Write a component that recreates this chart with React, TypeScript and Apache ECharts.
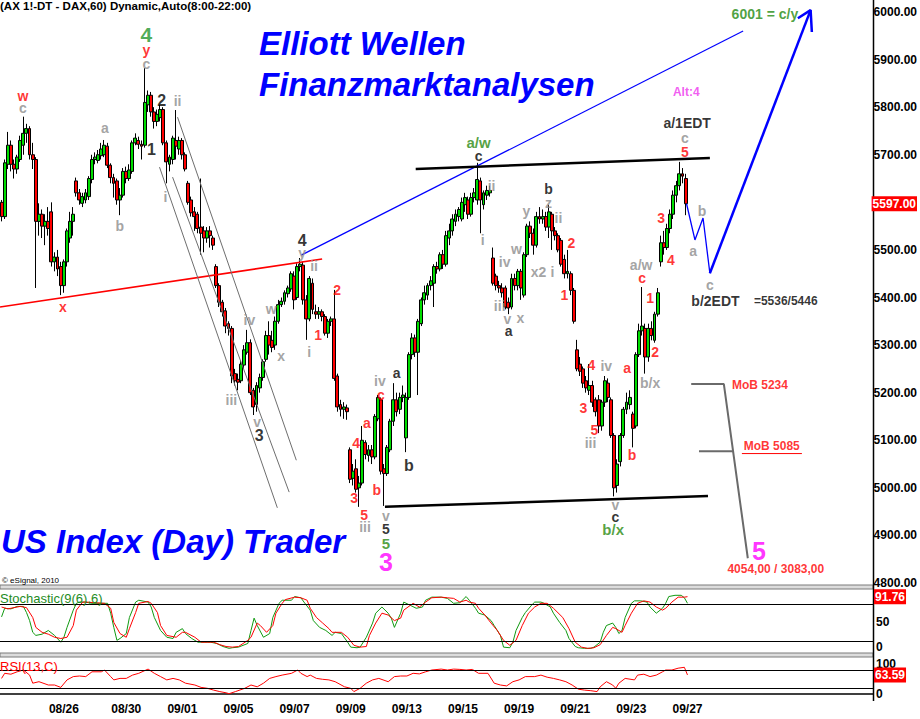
import React, { useEffect, useRef } from 'react';
import * as echarts from 'echarts';

// ---------- axis / categories ----------
const CATEGORY_COUNT = 280;
const dateTickIndex = [20, 40, 58, 76, 94, 112, 130, 148, 166, 184, 202, 220];
const dateTickLabels = ['08/26', '08/30', '09/01', '09/05', '09/07', '09/09', '09/13', '09/15', '09/19', '09/21', '09/23', '09/27'];
const priceMin = 4800;
const priceMax = 6000;
const priceStep = 100;
const lastPrice = 5597;
const lastStochD = 91.76;
const lastRsi = 63.59;

// ---------- hourly candles [open, close, low, high] ----------
const bars: number[][] = [
  [5600,5570,5560,5605],[5570,5683,5565,5690],[5680,5720,5670,5748],[5720,5680,5665,5730],[5680,5670,5650,5690],
  [5670,5695,5660,5700],[5690,5730,5685,5740],[5720,5745,5700,5780],[5745,5755,5725,5765],[5755,5700,5690,5760],
  [5700,5690,5670,5725],[5690,5560,5420,5695],[5560,5575,5530,5598],[5575,5550,5525,5585],[5550,5560,5510,5575],
  [5560,5545,5530,5590],[5580,5475,5465,5600],[5475,5485,5455,5495],[5485,5460,5445,5500],[5465,5425,5405,5475],
  [5425,5475,5410,5480],[5475,5540,5465,5545],[5525,5560,5515,5580],[5560,5575,5530,5590],[5645,5620,5612,5652],
  [5620,5605,5595,5628],[5598,5612,5590,5620],[5605,5620,5598,5628],[5612,5650,5605,5655],[5648,5690,5640,5700],
  [5690,5695,5680,5705],[5688,5700,5682,5710],[5698,5712,5690,5725],[5700,5720,5695,5731],[5718,5678,5672,5725],
  [5678,5652,5640,5682],[5652,5640,5610,5660],[5645,5605,5595,5650],[5605,5615,5573,5630],[5615,5665,5610,5672],
  [5665,5650,5640,5675],[5650,5668,5645,5680],[5665,5725,5660,5730],[5725,5735,5720,5745],[5730,5722,5712,5738],
  [5722,5718,5690,5730],[5720,5810,5715,5882],[5805,5825,5790,5835],[5825,5790,5780,5832],[5790,5770,5755,5800],
  [5770,5785,5760,5795],[5778,5795,5770,5805],[5795,5725,5720,5800],[5725,5685,5640,5730],[5680,5695,5665,5700],
  [5690,5735,5680,5740],[5730,5718,5690,5794],[5712,5730,5700,5738],[5730,5700,5690,5735],[5700,5670,5665,5705],
  [5640,5600,5595,5645],[5605,5578,5570,5612],[5580,5570,5540,5590],[5575,5545,5535,5580],[5548,5535,5490,5650],
  [5540,5525,5495,5550],[5525,5540,5515,5548],[5540,5530,5505,5550],[5525,5510,5500,5530],[5465,5425,5420,5470],
  [5425,5390,5380,5430],[5390,5370,5360,5395],[5372,5340,5325,5378],[5345,5335,5320,5350],[5335,5235,5220,5340],
  [5240,5225,5215,5250],[5228,5222,5205,5240],[5225,5260,5220,5268],[5258,5290,5250,5300],[5285,5305,5280,5332],
  [5305,5200,5195,5312],[5205,5170,5153,5210],[5175,5215,5160,5222],[5210,5232,5200,5240],[5232,5265,5225,5270],
  [5270,5320,5265,5330],[5320,5300,5280,5350],[5310,5295,5285,5330],[5300,5350,5290,5360],[5350,5385,5345,5395],
  [5385,5392,5380,5400],[5392,5410,5385,5415],[5408,5420,5400,5425],[5418,5450,5412,5455],[5445,5395,5375,5455],
  [5400,5465,5395,5472],[5465,5470,5455,5483],[5468,5395,5385,5475],[5395,5355,5311,5405],[5355,5440,5350,5445],
  [5430,5375,5365,5440],[5370,5365,5355,5385],[5365,5370,5355,5380],[5370,5360,5350,5375],[5360,5325,5320,5365],
  [5325,5350,5315,5355],[5350,5355,5340,5360],[5355,5230,5225,5416],[5235,5170,5160,5240],[5175,5165,5150,5185],
  [5165,5170,5145,5180],[5168,5160,5143,5175],[5080,5018,5010,5085],[5020,5035,5005,5050],[5040,4997,4990,5060],
  [5000,5010,4960,5025],[5010,5100,5005,5130],[5095,5070,5060,5100],[5068,5080,5055,5090],[5080,5065,5050,5090],
  [5065,5150,5060,5155],[5145,5190,5140,5195],[5185,5035,5028,5190],[5040,5030,4962,5050],[5030,5085,5025,5090],
  [5080,5140,5075,5145],[5140,5185,5130,5220],[5185,5160,5150,5200],[5165,5190,5155,5200],[5190,5195,5180,5215],
  [5105,5190,5075,5200],[5190,5280,5185,5285],[5280,5315,5270,5325],[5315,5285,5275,5322],[5285,5350,5195,5355],
  [5345,5395,5340,5400],[5395,5410,5385,5425],[5405,5425,5395,5430],[5425,5435,5415,5445],[5430,5465,5380,5470],
  [5465,5460,5450,5475],[5460,5490,5455,5495],[5490,5470,5460,5500],[5470,5530,5465,5540],[5525,5540,5510,5555],
  [5540,5565,5530,5575],[5560,5575,5550,5585],[5570,5585,5560,5590],[5565,5600,5560,5610],[5595,5610,5580,5620],
  [5605,5575,5565,5612],[5575,5610,5570,5620],[5610,5620,5600,5630],[5605,5648,5595,5683],[5645,5605,5535,5652],
  [5595,5620,5585,5625],[5615,5625,5605,5635],[5620,5625,5612,5635],[5483,5430,5425,5505],[5445,5425,5415,5450],
  [5425,5420,5410,5435],[5420,5410,5400,5430],[5420,5380,5375,5425],[5390,5378,5365,5400],[5380,5440,5375,5450],
  [5440,5425,5415,5450],[5425,5455,5415,5460],[5455,5420,5395,5460],[5405,5490,5400,5495],[5490,5550,5485,5555],
  [5550,5535,5525,5560],[5535,5510,5490,5545],[5510,5570,5505,5580],[5570,5565,5555,5590],[5565,5570,5555,5585],
  [5570,5548,5540,5580],[5548,5580,5525,5595],[5575,5540,5500,5580],[5540,5530,5520,5548],[5530,5500,5495,5535],
  [5520,5470,5465,5525],[5480,5450,5440,5490],[5450,5455,5440,5500],[5450,5415,5405,5455],[5415,5350,5345,5420],
  [5290,5250,5245,5311],[5260,5245,5235,5275],[5250,5220,5210,5255],[5225,5210,5200,5235],[5205,5215,5195,5260],
  [5215,5180,5170,5225],[5185,5160,5150,5190],[5185,5130,5115,5195],[5130,5180,5120,5185],[5180,5225,5170,5235],
  [5220,5190,5180,5230],[5185,5110,5105,5190],[5110,5000,4982,5115],[5005,5050,4990,5060],[5055,5110,5045,5115],
  [5110,5165,5105,5170],[5165,5180,5155,5200],[5175,5190,5165,5205],[5155,5125,5085,5160],[5130,5280,5125,5285],
  [5280,5330,5275,5345],[5330,5340,5320,5422],[5335,5275,5240,5345],[5275,5335,5265,5345],[5335,5320,5310,5350],
  [5310,5365,5305,5370],[5365,5410,5360,5420],[5475,5515,5465,5530],[5515,5505,5490,5540],[5505,5545,5500,5555],
  [5545,5575,5535,5585],[5575,5615,5565,5625],[5615,5635,5600,5645],[5635,5660,5625,5685],[5660,5655,5640,5672],
  [5650,5597,5573,5660],
];

// ---------- Stochastic(9(6),6): [bar index, value] ----------
const stochK: number[][] = [
  [0,59],[1,73],[3,72],[5,76],[7,76],[8,66],[9,53],[10,34],[11,29],[13,31],[15,37],[17,29],[19,18],[20,26],[21,42],
  [23,70],[24,81],[25,83],[27,83],[29,81],[32,81],[34,81],[35,65],[36,42],[37,21],[38,24],[40,32],[41,58],[43,83],
  [44,86],[47,83],[48,75],[49,58],[51,37],[53,26],[55,24],[56,34],[58,40],[59,32],[61,24],[63,18],[65,18],[67,18],
  [69,16],[71,11],[73,8],[74,9],[76,10],[79,16],[80,37],[81,57],[82,45],[84,26],[86,32],[87,58],[89,81],[90,86],
  [93,86],[94,92],[96,90],[97,83],[99,70],[100,53],[102,42],[104,37],[106,29],[107,34],[109,32],[111,18],[112,10],
  [114,9],[115,10],[117,26],[119,49],[120,65],[122,75],[124,65],[125,57],[126,42],[128,65],[129,83],[131,78],[133,73],
  [135,75],[136,86],[138,91],[141,91],[143,89],[145,81],[147,82],[149,92],[150,86],[152,73],[153,65],[155,62],[157,53],
  [158,45],[160,29],[161,10],[163,9],[164,18],[165,37],[167,58],[168,66],[170,78],[171,83],[173,83],[174,81],[176,75],
  [177,65],[179,50],[181,37],[182,24],[184,11],[185,9],[187,8],[189,8],[190,10],[192,18],[193,34],[194,45],[196,49],
  [197,42],[198,32],[199,37],[200,58],[202,81],[203,85],[205,85],[207,83],[208,75],[210,65],[212,73],[213,81],[214,92],
  [216,94],[218,94],[219,90],[220,81],
];
const stochD: number[][] = [
  [0,75],[2,72],[4,74],[6,76],[8,74],[10,58],[11,42],[13,34],[15,31],[17,26],[19,24],[21,26],[23,45],[24,70],[26,83],
  [27,83],[30,82],[33,81],[35,73],[36,50],[38,32],[40,26],[41,40],[43,66],[44,81],[47,84],[48,81],[50,66],[51,45],
  [53,29],[56,26],[58,34],[59,34],[62,26],[64,18],[66,18],[68,18],[70,14],[72,11],[74,10],[76,11],[79,21],[80,26],
  [82,49],[83,45],[85,34],[87,45],[88,65],[90,81],[91,87],[94,91],[96,90],[98,86],[99,73],[101,58],[103,49],[105,40],
  [106,34],[109,34],[111,26],[113,13],[115,10],[117,11],[118,29],[120,49],[122,65],[124,62],[126,53],[128,57],[129,70],
  [132,81],[134,75],[136,83],[138,90],[141,91],[143,90],[145,89],[147,83],[149,86],[150,83],[152,81],[153,73],[155,62],
  [157,49],[159,37],[161,21],[163,13],[165,21],[167,45],[169,65],[171,75],[173,81],[175,81],[177,73],[180,58],[182,40],
  [184,18],[186,10],[188,8],[190,9],[192,14],[194,29],[196,42],[197,40],[199,34],[200,45],[202,65],[204,81],[206,85],
  [208,83],[210,75],[212,70],[213,73],[215,83],[217,91],[219,91],[220,91.76],
];
// ---------- RSI(13,C) ----------
const rsi: number[][] = [
  [0,52],[1,69],[3,66],[5,74],[7,80],[9,63],[10,36],[12,41],[15,30],[17,30],[19,22],[21,47],[23,58],[25,60],[27,58],
  [29,74],[32,74],[33,80],[35,58],[36,47],[38,52],[40,52],[42,63],[44,69],[47,83],[49,69],[51,58],[53,47],[55,52],
  [57,47],[59,36],[62,30],[64,22],[66,19],[68,13],[70,8],[72,4],[73,1],[75,8],[78,19],[80,30],[82,24],[84,36],[86,52],
  [88,58],[90,63],[93,69],[95,80],[96,69],[98,58],[99,63],[101,52],[103,49],[105,47],[107,41],[110,24],[112,19],[113,8],
  [115,19],[117,36],[119,47],[121,52],[124,41],[126,58],[128,60],[130,60],[132,69],[134,67],[136,74],[138,80],[141,83],
  [143,80],[145,83],[147,82],[149,80],[151,82],[153,69],[156,69],[158,36],[160,30],[162,27],[164,41],[166,47],[168,58],
  [171,58],[173,63],[175,56],[177,52],[179,47],[181,41],[183,30],[185,16],[187,13],[189,11],[191,8],[192,24],[194,41],
  [196,30],[197,19],[198,36],[200,52],[203,47],[204,63],[206,66],[208,58],[210,63],[212,74],[213,80],[215,80],[217,86],
  [219,89],[220,63.59],
];

// ---------- drawn lines: [style, points as [bar index, price]] ----------
const trendLines: [string, number[][]][] = [
  ['red', [[-0.5, 5380], [103.1, 5481]]],
  ['blue', [[96.4, 5489], [238.5, 5960]]],
  ['black', [[133.2, 5670], [227.8, 5693]]],
  ['black', [[123.3, 4960], [227.2, 4983]]],
  ['gray', [[56.6, 5779], [94.8, 5058]]],
  ['gray', [[50.8, 5674], [88.7, 4958]]],
  ['gray', [[55.0, 5653], [92.5, 4991]]],
  ['mob', [[221.8, 5218], [232.3, 5218], [240.0, 4852]]],
  ['mob', [[224.3, 5077], [235.2, 5077]]],
  ['proj', [[220.3, 5597], [223.0, 5521], [225.6, 5567], [227.8, 5451]]],
  ['projBold', [[227.8, 5451], [260.2, 6004]]],
  ['projBold', [[256.1, 5987], [260.2, 6004], [260.6, 5958]]],
  ['underline', [[238.1, 5072], [257.4, 5072]]],
];

// ---------- wave labels: [text, bar index, price, style] ----------
const waveLabels: [string, number, number, string][] = [
  ['w', 6.9, 5823, 'red'], ['c', 6.9, 5798, 'gray'],
  ['4', 46.6, 5952, 'greenL'], ['y', 46.6, 5920, 'red'], ['c', 46.6, 5891, 'gray'],
  ['2', 51.5, 5815, 'blackL'], ['1', 48.2, 5710, 'blackL'], ['ii', 56.6, 5813, 'gray'], ['i', 52.7, 5611, 'gray'],
  ['a', 33.2, 5756, 'gray'], ['b', 38, 5550, 'gray'], ['x', 19.7, 5380, 'red'],
  ['iv', 79.7, 5353, 'gray'], ['iii', 73.9, 5185, 'gray'], ['v', 82.2, 5138, 'gray'], ['3', 82.9, 5111, 'blackL'],
  ['w', 86.7, 5376, 'gray'], ['x', 89.9, 5277, 'gray'],
  ['4', 96.7, 5520, 'blackL'], ['y', 96.7, 5493, 'gray'], ['ii', 100.5, 5466, 'gray'], ['i', 98.9, 5285, 'gray'],
  ['1', 101.8, 5321, 'red'], ['2', 107.9, 5416, 'red'],
  ['4', 114, 5094, 'red'], ['3', 113.4, 4979, 'red'], ['5', 116.6, 4943, 'red'], ['iii', 116.9, 4918, 'gray'],
  ['a', 117.5, 5136, 'red'], ['b', 120.7, 4995, 'red'], ['c', 122, 5195, 'red'], ['iv', 121.7, 5224, 'gray'],
  ['v', 123.6, 4941, 'gray'], ['5', 123.6, 4913, 'black'], ['5', 123.6, 4884, 'green'], ['3', 123.6, 4844, 'magenta'],
  ['a', 127.1, 5241, 'black'], ['b', 131, 5046, 'blackL'],
  ['a/w', 153.4, 5725, 'green'], ['c', 153.4, 5697, 'black'], ['ii', 157.6, 5634, 'gray'], ['i', 154.7, 5521, 'gray'],
  ['iv', 161.8, 5475, 'gray'], ['iii', 160.2, 5382, 'gray'], ['v', 162.7, 5355, 'gray'], ['a', 163.1, 5330, 'black'],
  ['x', 166.9, 5357, 'gray'], ['w', 165.6, 5502, 'gray'], ['x2', 172.7, 5454, 'gray'], ['y', 168.8, 5582, 'gray'],
  ['z', 175.9, 5599, 'gray'], ['b', 175.9, 5627, 'black'], ['ii', 179.1, 5567, 'gray'], ['i', 177.2, 5454, 'gray'],
  ['2', 183.3, 5515, 'red'], ['1', 181, 5405, 'red'],
  ['4', 189.7, 5258, 'red'], ['iv', 194.5, 5256, 'gray'], ['3', 187.1, 5168, 'red'], ['5', 190.7, 5121, 'red'],
  ['iii', 189.4, 5094, 'gray'], ['v', 197.4, 4964, 'gray'], ['c', 197.4, 4939, 'black'], ['b/x', 196.7, 4913, 'green'],
  ['a', 201.2, 5252, 'red'], ['b', 202.8, 5069, 'red'], ['c', 206, 5441, 'red'], ['a/w', 205.7, 5468, 'gray'],
  ['1', 208.6, 5399, 'red'], ['2', 210.2, 5285, 'red'], ['b/x', 208.6, 5220, 'gray'],
  ['3', 212.1, 5567, 'red'], ['4', 215.3, 5479, 'red'], ['5', 219.8, 5706, 'red'], ['c', 219.8, 5735, 'gray'],
  ['a/1EDT', 220.5, 5767, 'edt'], ['Alt:4', 220.2, 5832, 'alt'],
  ['a', 222.4, 5498, 'gray'], ['b', 225.3, 5582, 'gray'], ['c', 227.8, 5426, 'gray'],
  ['b/2EDT', 229.6, 5393, 'edt'], ['=5536/5446', 252.2, 5393, 'plain'],
  ['MoB 5234', 243.9, 5216, 'note'], ['MoB 5085', 247.7, 5088, 'note'],
  ['5', 243.6, 4867, 'magenta'], ['4054,00 / 3083,00', 249, 4829, 'note'],
  ['6001 = c/y', 245.5, 5996, 'target'],
];

// ---------- styles ----------
const FONT = 'Liberation Sans';
const lineStyles: Record<string, any> = {
  red: { color: '#ff0000', width: 1.6 },
  blue: { color: '#0000ff', width: 1.2 },
  black: { color: '#000000', width: 2.5 },
  gray: { color: '#6e6e6e', width: 1 },
  mob: { color: '#6a6a6a', width: 2 },
  proj: { color: '#0000ff', width: 1.3 },
  projBold: { color: '#0000ff', width: 2.5 },
  underline: { color: '#ff0000', width: 1 },
};
const labelStyles: Record<string, any> = {
  gray: { color: '#8c8c8c', fontSize: 14, fontWeight: 'bold' },
  red: { color: '#ff0000', fontSize: 14, fontWeight: 'bold' },
  black: { color: '#000000', fontSize: 14, fontWeight: 'bold' },
  blackL: { color: '#000000', fontSize: 16, fontWeight: 'bold' },
  green: { color: '#2a8a10', fontSize: 15, fontWeight: 'bold' },
  greenL: { color: '#22962a', fontSize: 21, fontWeight: 'bold' },
  magenta: { color: '#ff00ff', fontSize: 25, fontWeight: 'bold' },
  alt: { color: '#ee33ee', fontSize: 12, fontWeight: 'bold' },
  edt: { color: '#000000', fontSize: 14, fontWeight: 'bold' },
  plain: { color: '#000000', fontSize: 12, fontWeight: 'bold' },
  note: { color: '#ff0000', fontSize: 12, fontWeight: 'bold' },
  target: { color: '#1f8a10', fontSize: 14, fontWeight: 'bold' },
};

const categories = Array.from({ length: CATEGORY_COUNT }, (_, i) => String(i));

const boxLabel = (text: string) => ({
  show: true, position: 'end', distance: 1, formatter: text,
  color: '#ffffff', backgroundColor: '#ff0000', fontWeight: 'bold', fontSize: 12,
  fontFamily: FONT, padding: [2, 1, 1, 1],
});

function buildOption() {
  const gridRight = 47;
  const axisText = { color: '#000', fontWeight: 'bold', fontSize: 12, fontFamily: FONT, margin: 3 };
  const hidden = { color: 'rgba(0,0,0,0)', width: 0 };
  const series: any[] = [];

  series.push({
    type: 'candlestick', xAxisIndex: 0, yAxisIndex: 0, data: bars, barWidth: 3.4, z: 3,
    itemStyle: { color: '#00dd00', color0: '#ff0000', borderColor: '#000', borderColor0: '#000', borderWidth: 1 },
    markLine: {
      silent: true, symbol: ['none', 'none'], clip: false,
      data: [{ yAxis: lastPrice, lineStyle: hidden, label: boxLabel(lastPrice.toFixed(2)) }],
    },
  });

  trendLines.forEach(([kind, pts]) => {
    series.push({
      type: 'line', xAxisIndex: 1, yAxisIndex: 0, data: pts, showSymbol: false, symbol: 'none',
      clip: false, silent: true, z: 5, lineStyle: lineStyles[kind],
    });
  });

  series.push({
    type: 'scatter', xAxisIndex: 1, yAxisIndex: 0, symbolSize: 1, clip: false, silent: true, z: 10,
    itemStyle: { color: 'rgba(0,0,0,0)' },
    data: waveLabels.map(([t, x, y, k]) => ({
      value: [x, y],
      label: { show: true, position: 'inside', formatter: t, fontFamily: FONT, ...labelStyles[k] },
    })),
  });

  const band = { color: '#000', width: 1, type: 'solid' };
  series.push({
    type: 'line', xAxisIndex: 2, yAxisIndex: 1, data: stochK, showSymbol: false, symbol: 'none', silent: true,
    lineStyle: { color: '#119911', width: 1 },
    markLine: {
      silent: true, symbol: ['none', 'none'], label: { show: false },
      data: [{ yAxis: 80, lineStyle: band }, { yAxis: 20, lineStyle: band }],
    },
  });
  series.push({
    type: 'line', xAxisIndex: 2, yAxisIndex: 1, data: stochD, showSymbol: false, symbol: 'none', silent: true,
    lineStyle: { color: '#ff0000', width: 1 },
    markLine: {
      silent: true, symbol: ['none', 'none'], clip: false,
      data: [{ yAxis: lastStochD, lineStyle: hidden, label: boxLabel(lastStochD.toFixed(2)) }],
    },
  });
  series.push({
    type: 'line', xAxisIndex: 3, yAxisIndex: 2, data: rsi, showSymbol: false, symbol: 'none', silent: true,
    lineStyle: { color: '#ff0000', width: 1 },
    markLine: {
      silent: true, symbol: ['none', 'none'], clip: false,
      data: [
        { yAxis: 80, lineStyle: band, label: { show: false } },
        { yAxis: 20, lineStyle: band, label: { show: false } },
        { yAxis: lastRsi, lineStyle: hidden, label: boxLabel(lastRsi.toFixed(2)) },
      ],
    },
  });

  const text = (t: string, x: number, y: number, font: string, fill: string) => ({
    type: 'text', x, y, silent: true, z: 20,
    style: { text: t, font, fill, align: 'left', verticalAlign: 'middle', textAlign: 'left', textVerticalAlign: 'middle' },
  });
  const titleFont = `italic bold 33px "${FONT}"`;

  return {
    animation: false,
    backgroundColor: '#ffffff',
    grid: [
      { left: 0, right: gridRight, top: 12, height: 571 },
      { left: 0, right: gridRight, top: 591.6, height: 61.7 },
      { left: 0, right: gridRight, top: 664, height: 30 },
    ],
    xAxis: [
      { type: 'category', gridIndex: 0, data: categories, show: false },
      { type: 'value', gridIndex: 0, min: -0.5, max: CATEGORY_COUNT - 0.5, show: false },
      { type: 'category', gridIndex: 1, data: categories, show: false },
      {
        type: 'category', gridIndex: 2, data: categories, offset: 7,
        axisLine: { show: true, lineStyle: { color: '#000', width: 1.5 } },
        axisTick: { show: false },
        axisLabel: {
          ...axisText, margin: 2,
          interval: (i: number) => dateTickIndex.includes(i),
          formatter: (_v: string, i: number) => {
            const k = dateTickIndex.indexOf(i);
            return k >= 0 ? dateTickLabels[k] : '';
          },
        },
      },
    ],
    yAxis: [
      {
        type: 'value', gridIndex: 0, position: 'right', min: priceMin, max: priceMax, interval: priceStep,
        splitLine: { show: false }, axisLine: { show: false }, axisTick: { show: false },
        axisLabel: { ...axisText, formatter: (v: number) => v.toFixed(2) },
      },
      {
        type: 'value', gridIndex: 1, position: 'right', min: 0, max: 100, interval: 50,
        splitLine: { show: false }, axisLine: { show: false }, axisTick: { show: false },
        axisLabel: {
          ...axisText,
          formatter: (v: number) => (v === 50 ? '50' : v === 0 ? '{z|0}' : ''),
          rich: { z: { color: '#000', fontWeight: 'bold', fontSize: 12, fontFamily: FONT, padding: [0, 0, 12, 0] } },
        },
      },
      {
        type: 'value', gridIndex: 2, position: 'right', min: 0, max: 100, interval: 100,
        splitLine: { show: false }, axisLine: { show: false }, axisTick: { show: false },
        axisLabel: { ...axisText },
      },
    ],
    graphic: [
      { type: 'rect', silent: true, z: 1, shape: { x: 0, y: 585, width: 873, height: 4 }, style: { fill: '#dcdcdc', stroke: '#7a7a7a', lineWidth: 1 } },
      { type: 'rect', silent: true, z: 1, shape: { x: 0, y: 653, width: 873, height: 4 }, style: { fill: '#dcdcdc', stroke: '#7a7a7a', lineWidth: 1 } },
      { type: 'line', silent: true, z: 2, shape: { x1: 873.5, y1: 0, x2: 873.5, y2: 701 }, style: { stroke: '#000', lineWidth: 1.5 } },
      text('(AX 1!-DT - DAX,60) Dynamic,Auto(8:00-22:00)', 0, 6, `bold 11.5px "${FONT}"`, '#000'),
      text('Elliott Wellen', 259, 43, titleFont, '#0000ff'),
      text('Finanzmarktanalysen', 259, 84, titleFont, '#0000ff'),
      text('US Index (Day) Trader', 1, 541, titleFont, '#0000ff'),
      text('\u00a9 eSignal, 2010', 2, 580, `8px "${FONT}"`, '#000'),
      text('Stochastic(9(6),6)', 0, 598, `13px "${FONT}"`, '#1e8c1e'),
      text('RSI(13,C)', 0, 666, `13px "${FONT}"`, '#ff0000'),
    ],
    series,
  };
}

export default function App() {
  const ref = useRef<HTMLDivElement>(null);
  useEffect(() => {
    if (!ref.current) return;
    const chart = echarts.init(ref.current, null, { renderer: 'svg' });
    chart.setOption(buildOption() as any);
    return () => chart.dispose();
  }, []);
  return <div ref={ref} style={{ position: 'absolute', left: 0, top: 0, width: 920, height: 719 }} />;
}
